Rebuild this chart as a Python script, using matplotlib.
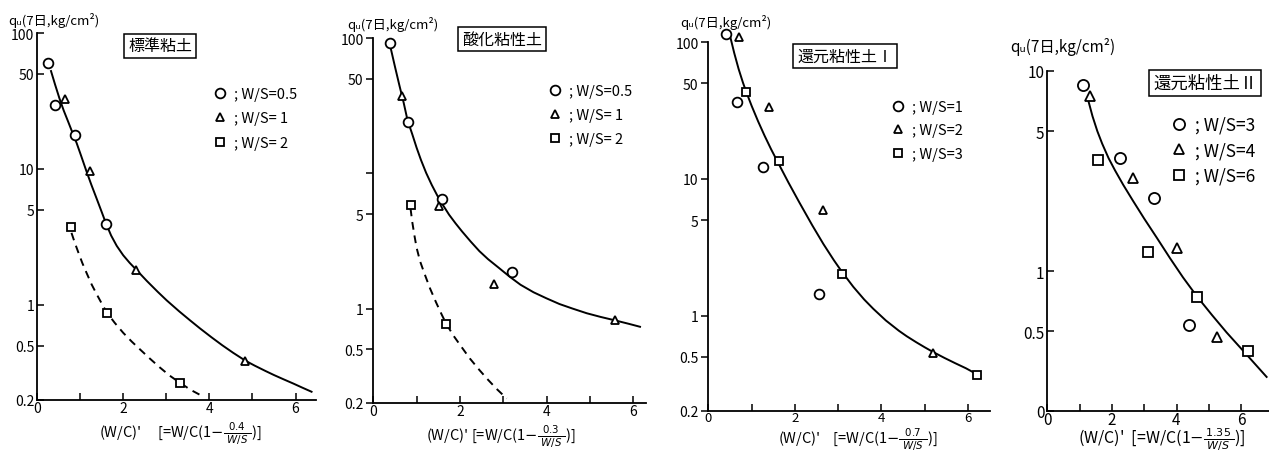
import matplotlib
matplotlib.use("Agg")
import matplotlib.pyplot as plt

plt.rcParams['font.family'] = ['Noto Sans CJK JP', 'DejaVu Sans']
plt.rcParams['mathtext.fontset'] = 'dejavusans'

W, H = 1269, 452

# ---------------- data ----------------
# Panel 1 : 標準粘土
p1_circle_x = [0.25, 0.42, 0.88, 1.60]
p1_circle_y = [60, 29.7, 17.8, 3.95]
p1_tri_x = [0.65, 1.23, 2.30, 4.83]
p1_tri_y = [32.7, 9.7, 1.82, 0.39]
p1_sq_x = [0.80, 1.62, 3.32]
p1_sq_y = [3.72, 0.88, 0.267]
p1_solid_x = [0.325, 0.42, 0.52, 0.62, 0.72, 0.82, 0.92, 1.02, 1.14, 1.26, 1.38, 1.50, 1.60, 1.72,
              1.85, 2.00, 2.15, 2.30, 2.55, 2.80, 3.01, 3.30, 3.55, 3.78, 4.05, 4.30, 4.55, 4.83,
              5.05, 5.30, 5.50, 5.72, 5.95, 6.15, 6.37]
p1_solid_y = [52.5, 41.7, 33.1, 26.9, 22.4, 18.6, 15.5, 12.6, 9.77, 7.67, 6.10, 4.84, 3.98, 3.24,
              2.72, 2.32, 2.04, 1.82, 1.50, 1.25, 1.08, 0.897, 0.771, 0.673, 0.578, 0.505, 0.445, 0.390,
              0.358, 0.327, 0.305, 0.284, 0.264, 0.247, 0.230]
p1_dash_x = [0.80, 0.88, 0.96, 1.05, 1.15, 1.27, 1.40, 1.52, 1.62, 1.80, 2.00, 2.20, 2.40, 2.62,
             2.85, 3.08, 3.32, 3.57, 3.82]
p1_dash_y = [3.39, 2.85, 2.43, 2.04, 1.72, 1.41, 1.175, 1.0, 0.881, 0.741, 0.624, 0.537, 0.468, 0.403,
             0.347, 0.302, 0.267, 0.237, 0.215]

# Panel 2 : 酸化粘性土
p2_circle_x = [0.38, 0.79, 1.59, 3.20]
p2_circle_y = [91.8, 23.9, 6.5, 1.88]
p2_tri_x = [0.66, 1.51, 2.79, 5.58]
p2_tri_y = [37.2, 5.7, 1.53, 0.82]
p2_sq_x = [0.86, 1.68]
p2_sq_y = [5.8, 0.77]
p2_solid_x = [0.40, 0.50, 0.60, 0.70, 0.79, 0.90, 1.00, 1.10, 1.22, 1.35, 1.48, 1.60, 1.75, 1.90,
              2.05, 2.25, 2.45, 2.65, 2.90, 3.15, 3.40, 3.70, 4.00, 4.30, 4.60, 4.93, 5.25, 5.58,
              5.90, 6.16]
p2_solid_y = [85.1, 61.7, 45.2, 33.5, 24.8, 19.5, 15.5, 12.6, 10.1, 8.22, 6.84, 5.89, 4.95, 4.27,
              3.72, 3.13, 2.66, 2.32, 2.00, 1.72, 1.50, 1.32, 1.19, 1.08, 1.0, 0.923, 0.867, 0.818,
              0.771, 0.733]
p2_dash_x = [0.86, 0.90, 0.95, 1.00, 1.08, 1.18, 1.31, 1.45, 1.58, 1.68, 1.85, 2.05, 2.23, 2.45,
             2.65, 2.85, 3.08]
p2_dash_y = [5.50, 4.37, 3.47, 2.82, 2.24, 1.82, 1.41, 1.11, 0.902, 0.776, 0.631, 0.513, 0.427, 0.351,
             0.297, 0.254, 0.216]

# Panel 3 : 還元粘性土 I
p3_circle_x = [0.41, 0.67, 1.27, 2.56]
p3_circle_y = [115, 36.8, 12.3, 1.43]
p3_tri_x = [0.72, 1.40, 2.64, 5.18]
p3_tri_y = [110, 33.8, 5.96, 0.53]
p3_sq_x = [0.87, 1.63, 3.09, 6.20]
p3_sq_y = [43, 13.6, 2.02, 0.37]
p3_solid_x = [0.50, 0.60, 0.70, 0.80, 0.87, 1.00, 1.15, 1.30, 1.45, 1.63, 1.85, 2.10, 2.40, 2.66,
              2.90, 3.09, 3.35, 3.60, 3.81, 4.10, 4.40, 4.58, 4.80, 5.00, 5.18, 5.45, 5.70, 5.95, 6.20]
p3_solid_y = [112, 83.2, 63.8, 50.7, 43.9, 34.3, 26.4, 20.7, 16.5, 12.8, 9.42, 6.75, 4.58, 3.33,
              2.54, 2.08, 1.62, 1.31, 1.12, 0.920, 0.774, 0.706, 0.638, 0.585, 0.543, 0.490, 0.448,
              0.411, 0.372]

# Panel 4 : 還元粘性土 II
p4_circle_x = [1.11, 2.25, 3.30, 4.40]
p4_circle_y = [8.5, 3.66, 2.32, 0.54]
p4_tri_x = [1.32, 2.64, 4.00, 5.24]
p4_tri_y = [7.5, 2.92, 1.30, 0.47]
p4_sq_x = [1.56, 3.13, 4.64, 6.22]
p4_sq_y = [3.59, 1.24, 0.74, 0.40]
p4_solid_x = [1.27, 1.40, 1.55, 1.70, 1.90, 2.10, 2.35, 2.65, 3.00, 3.40, 3.80, 4.20, 4.64, 5.10,
              5.55, 6.20, 6.79]
p4_solid_y = [7.11, 5.94, 5.00, 4.33, 3.66, 3.18, 2.70, 2.25, 1.83, 1.46, 1.16, 0.931, 0.745, 0.603,
              0.494, 0.378, 0.296]

titles = ['標準粘土', '酸化粘性土', '還元粘性土Ⅰ', '還元粘性土Ⅱ']
legend_labels = [
    ['; W/S=0.5', '; W/S= 1', '; W/S= 2'],
    ['; W/S=0.5', '; W/S= 1', '; W/S= 2'],
    ['; W/S=1', '; W/S=2', '; W/S=3'],
    ['; W/S=3', '; W/S=4', '; W/S=6'],
]
ws_consts = ['0.4', '0.3', '0.7', '1.35']
xlabel_gaps = ['     ', ' ', '    ', '  ']
ytick_vals_a = [100, 50, 10, 5, 1, 0.5, 0.2]
ytick_labels_1 = ['100', '50', '10', '5', '1', '0.5', '0.2']
ytick_labels_2 = ['100', '50', '', '5', '1', '0.5', '0.2']
ytick_vals_4 = [10, 5, 1, 0.5, 0.2]
ytick_labels_4 = ['10', '5', '1', '0.5', '0']
xtick_vals = [0, 1, 2, 3, 4, 5, 6]
xtick_labels = ['0', '', '2', '', '4', '', '6']
ylabel_text = 'qᵤ(7日,kg/cm²)'

# ---------------- layout (pixel geometry) ----------------
# (x0 pixel, px per unit, xmax, ytop value, ytop px, ybot px)
geo = [
    (37.0, 43.1, 6.47, 100, 34.0, 401.0),
    (373.3, 43.3, 6.30, 100, 39.3, 404.0),
    (708.3, 43.3, 6.50, 100, 43.3, 412.0),
    (1047.3, 32.3, 6.86, 10, 72.0, 412.0),
]

fig = plt.figure(figsize=(W / 100, H / 100), dpi=100)
fig.patch.set_facecolor('white')

panels = [
    (p1_circle_x, p1_circle_y, p1_tri_x, p1_tri_y, p1_sq_x, p1_sq_y, p1_solid_x, p1_solid_y, p1_dash_x, p1_dash_y),
    (p2_circle_x, p2_circle_y, p2_tri_x, p2_tri_y, p2_sq_x, p2_sq_y, p2_solid_x, p2_solid_y, p2_dash_x, p2_dash_y),
    (p3_circle_x, p3_circle_y, p3_tri_x, p3_tri_y, p3_sq_x, p3_sq_y, p3_solid_x, p3_solid_y, None, None),
    (p4_circle_x, p4_circle_y, p4_tri_x, p4_tri_y, p4_sq_x, p4_sq_y, p4_solid_x, p4_solid_y, None, None),
]

title_pos = [(160, 47), (502, 40), (845, 57), (1205, 84)]
title_fs = [11.5, 11.5, 11.5, 12.5]
legend_anchor = [(213, 88), (548, 85), (891, 101), (1170, 117)]
legend_fs = [10.5, 10.5, 10.5, 12.5]
legend_sp = [0.72, 0.70, 0.64, 0.42]
ylabel_pos = [(8, 20), (347, 25), (680, 23), (1010, 47)]
ylabel_fs = [9.5, 9.5, 9.5, 11]
xlabel_pos = [(181, 434), (501, 437), (858, 440), (1162, 440)]
xlabel_fs = [10.5, 10.5, 10.5, 11.5]
xtick_fs = [10, 10, 9.5, 11]
ytick_fs = [10, 10, 10, 11]
xtick_pad = [1, 1, 0, 0]

mk = dict(color='black', markerfacecolor='white', markeredgecolor='black',
          markeredgewidth=1.3, linestyle='none', clip_on=False, zorder=5)

for i, (g, d) in enumerate(zip(geo, panels)):
    x0, ppu, xmax, ytopv, ytop, ybot = g
    rect = [x0 / W, 1 - ybot / H, xmax * ppu / W, (ybot - ytop) / H]
    ax = fig.add_axes(rect)
    ax.set_facecolor('none')
    cx, cy, tx, ty, sx, sy, lx, ly, dx, dy = d
    ax.set_yscale('log')
    ax.set_xlim(0, xmax)
    ax.set_ylim(0.2, ytopv)
    ax.plot(lx, ly, color='black', lw=1.4, zorder=3, clip_on=False, solid_joinstyle='round')
    if dx is not None:
        ax.plot(dx, dy, color='black', lw=1.4, linestyle=(0, (4, 3)), zorder=3)
    ms = 7 if i < 3 else 8
    h1, = ax.plot(cx, cy, marker='o', markersize=ms, **mk)
    h2, = ax.plot(tx, ty, marker='^', markersize=ms - 1, **mk)
    h3, = ax.plot(sx, sy, marker='s', markersize=ms - 1.5, **mk)

    for s in ['top', 'right']:
        ax.spines[s].set_visible(False)
    for s in ['left', 'bottom']:
        ax.spines[s].set_linewidth(1.3)

    ax.set_xticks(xtick_vals)
    ax.set_xticklabels(xtick_labels)
    if i == 3:
        ax.set_yticks(ytick_vals_4)
        ax.set_yticklabels(ytick_labels_4)
    else:
        ax.set_yticks(ytick_vals_a)
        ax.set_yticklabels(ytick_labels_2 if i == 1 else ytick_labels_1)
    ax.minorticks_off()
    ydir = 'out' if i in (1, 2) else 'in'
    ax.tick_params(axis='x', direction='in', length=5, width=1.1, pad=xtick_pad[i],
                   labelsize=xtick_fs[i])
    ax.tick_params(axis='y', direction=ydir, length=5, width=1.1, pad=2, labelsize=ytick_fs[i])

    # title box
    tpx, tpy = title_pos[i]
    fig.text(tpx / W, 1 - tpy / H, titles[i], ha='center', va='center', fontsize=title_fs[i],
             bbox=dict(boxstyle='square,pad=0.25', facecolor='white', edgecolor='black', linewidth=1.1))

    # legend
    lax, lay = legend_anchor[i]
    ax.legend([h1, h2, h3], legend_labels[i], loc='upper left',
              bbox_to_anchor=(lax / W, 1 - lay / H), bbox_transform=fig.transFigure,
              frameon=False, numpoints=1, handlelength=1.0, handletextpad=0.45,
              labelspacing=legend_sp[i], fontsize=legend_fs[i], borderpad=0, borderaxespad=0)

    # y label
    ypx, ypy = ylabel_pos[i]
    fig.text(ypx / W, 1 - ypy / H, ylabel_text, ha='left', va='center', fontsize=ylabel_fs[i])

    # x label
    xpx, xpy = xlabel_pos[i]
    fig.text(xpx / W, 1 - xpy / H,
             "(W/C)'%s[=W/C(1$-\\frac{%s}{\\ W/S\\ }$)]" % (xlabel_gaps[i], ws_consts[i]),
             ha='center', va='center', fontsize=xlabel_fs[i])

fig.savefig('out.png', dpi=100, facecolor='white')
